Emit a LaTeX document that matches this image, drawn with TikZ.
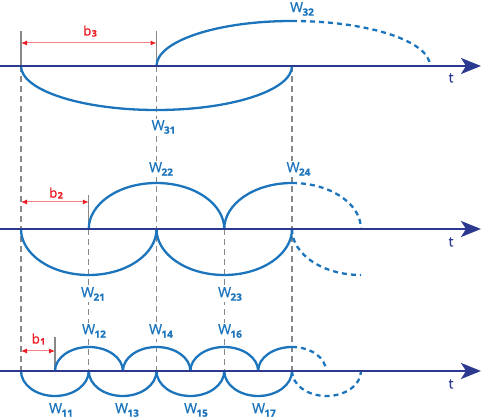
\documentclass[tikz,border=0pt]{standalone}
\usepackage{fontspec}
\setmainfont{Open Sans}[FakeBold=0.8]
\usetikzlibrary{arrows.meta}
\definecolor{arcblue}{HTML}{1C75BC}
\definecolor{axisblue}{HTML}{2B3990}
\definecolor{tickgray}{HTML}{888888}
\definecolor{dimred}{HTML}{ED1C24}
\newcommand{\Wsub}[1]{W\kern-0.6pt\raisebox{-3.5pt}{\fontsize{10}{10}\selectfont\bfseries #1}}
\newcommand{\bsub}[1]{b\kern0.3pt\raisebox{-1pt}{\fontsize{9}{9}\selectfont\bfseries #1}}
\begin{document}
\begin{tikzpicture}[x=1pt,y=-1pt,
  axis/.style={axisblue, line width=2.2pt, -{Stealth[length=20pt,width=16pt,inset=5pt]}},
  wave/.style={arcblue, line width=2.3pt},
  wavedash/.style={wave, dash pattern=on 5pt off 4pt},
  guide/.style={tickgray, line width=1.3pt, dash pattern=on 6pt off 4pt},
  tickmark/.style={tickgray, line width=1.3pt},
  dim/.style={draw=dimred!55, line width=1pt, {Latex[length=6pt,width=5pt,color=dimred]}-{Latex[length=6pt,width=5pt,color=dimred]}},
  wl/.style={text=arcblue, fill=white, inner sep=1pt, font=\fontsize{14}{14}\selectfont},
  bl/.style={text=dimred, inner sep=0pt, font=\fontsize{13.5}{13.5}\selectfont},
  tl/.style={text=axisblue, inner sep=0pt, font=\fontsize{13.5}{13.5}\selectfont}]
\useasboundingbox (0,0) rectangle (482,419);

% axis coordinates
\coordinate (A1s) at (0,66);   \coordinate (A1e) at (481,66);
\coordinate (A2s) at (0,229);  \coordinate (A2e) at (481,229);
\coordinate (A3s) at (0,371);  \coordinate (A3e) at (481,371);

% key points on axes
\coordinate (T0) at (21,66);    \coordinate (T2) at (156.5,66);   \coordinate (T4) at (292,66);
\coordinate (M0) at (21,229);   \coordinate (M1) at (88.75,229);  \coordinate (M2) at (156.5,229);
\coordinate (M3) at (224.25,229); \coordinate (M4) at (292,229);
\coordinate (B0) at (21,371);   \coordinate (B1) at (88.75,371);  \coordinate (B2) at (156.5,371);
\coordinate (B3) at (224.25,371); \coordinate (B4) at (292,371);
\coordinate (Bh) at (55,371);   \coordinate (Bh1) at (122.875,371); \coordinate (Bh2) at (190.375,371);
\coordinate (Bh3) at (258.125,371);

% tick tops
\coordinate (T0t) at (21,31);  \coordinate (T2t) at (156.5,31);
\coordinate (M1t) at (88.75,195);
\coordinate (Bht) at (55,337);

% guide lines
\draw[guide] (T0) -- (B0);
\draw[guide] (T2) -- (B2);
\draw[guide] (T4) -- (B4);
\draw[guide] (M1) -- (B1);
\draw[guide] (M3) -- (B3);

% labels
\node[wl] (W32) at (302,9) {\Wsub{32}};
\node[wl] (W31) at (163.5,127) {\Wsub{31}};
\node[wl] (W22) at (161,169) {\Wsub{22}};
\node[wl] (W24) at (298.5,169) {\Wsub{24}};
\node[wl] (W21) at (93,294) {\Wsub{21}};
\node[wl] (W23) at (230,294) {\Wsub{23}};
\node[wl] (W12) at (94,331) {\Wsub{12}};
\node[wl] (W14) at (161,331) {\Wsub{14}};
\node[wl] (W16) at (230,331) {\Wsub{16}};
\node[wl] (W11) at (61,410) {\Wsub{11}};
\node[wl] (W13) at (127,410) {\Wsub{13}};
\node[wl] (W15) at (196,410) {\Wsub{15}};
\node[wl] (W17) at (264,410) {\Wsub{17}};
\node[bl] (b3) at (90,31) {\bsub{3}};
\node[bl] (b2) at (56,193) {\bsub{2}};
\node[bl] (b1) at (38.5,339) {\bsub{1}};
\node[tl] (t1) at (451,78) {t};
\node[tl] (t2) at (451,242) {t};
\node[tl] (t3) at (451,384) {t};

% ticks and dimension arrows
\draw[tickmark] (T0t) -- (T0);
\draw[tickmark] (T2t) -- (T2);
\draw[tickmark] (M1t) -- (M1);
\draw[tickmark] (Bht) -- (Bh);
\draw[dim] (T0t |- 0,43) -- (T2t |- 0,43);
\draw[dim] (M0 |- 0,202) -- (M1t |- 0,202);
\draw[dim] (B0 |- 0,351) -- (Bht |- 0,351);

% top row waves
\draw[wave] (T0) arc[start angle=180, end angle=0, x radius=135.5, y radius=44];
\draw[wave] (T2) arc[start angle=180, end angle=270, x radius=135.5, y radius=45] coordinate (T4top);
\draw[wavedash] (T4top) arc[start angle=270, end angle=360, x radius=138, y radius=45];

% middle row waves
\draw[wave] (M0) arc[start angle=180, end angle=0, x radius=67.75, y radius=46];
\draw[wave] (M2) arc[start angle=180, end angle=0, x radius=67.75, y radius=46];
\draw[wave] (M1) arc[start angle=180, end angle=360, x radius=67.75, y radius=46];
\draw[wave] (M3) arc[start angle=180, end angle=270, x radius=67.75, y radius=46] coordinate (M4top);
\draw[wavedash] (M4top) arc[start angle=270, end angle=360, x radius=69, y radius=46];
\draw[wavedash] (M4) arc[start angle=180, end angle=90, x radius=69, y radius=46];

% bottom row waves
\draw[wave] (B0) arc[start angle=180, end angle=0, x radius=33.875, y radius=25];
\draw[wave] (B1) arc[start angle=180, end angle=0, x radius=33.875, y radius=25];
\draw[wave] (B2) arc[start angle=180, end angle=0, x radius=33.875, y radius=25];
\draw[wave] (B3) arc[start angle=180, end angle=0, x radius=33.875, y radius=25];
\draw[wave] (Bh) arc[start angle=180, end angle=360, x radius=33.9375, y radius=24];
\draw[wave] (Bh1) arc[start angle=180, end angle=360, x radius=33.75, y radius=24];
\draw[wave] (Bh2) arc[start angle=180, end angle=360, x radius=33.875, y radius=24];
\draw[wave] (Bh3) arc[start angle=180, end angle=270, x radius=33.875, y radius=24] coordinate (B4top);
\draw[wavedash] (B4top) arc[start angle=270, end angle=360, x radius=34, y radius=24];
\draw[wavedash] (B4) arc[start angle=180, end angle=0, x radius=34.5, y radius=25];

% axes
\draw[axis] (A1s) -- (A1e);
\draw[axis] (A2s) -- (A2e);
\draw[axis] (A3s) -- (A3e);
\end{tikzpicture}
\end{document}
